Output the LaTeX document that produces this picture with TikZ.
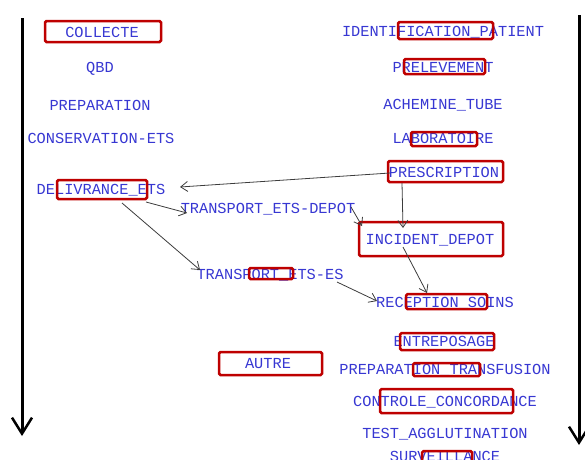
\documentclass[tikz,border=0pt]{standalone}
\usepackage{fontspec}
\setmonofont{Liberation Mono}
\usetikzlibrary{arrows.meta,calc}
\definecolor{lblblue}{RGB}{55,55,210}
\definecolor{boxred}{RGB}{190,0,0}
\definecolor{linkgray}{RGB}{60,60,60}
\begin{document}
\begin{tikzpicture}[x=1pt, y=-1pt,
    lbl/.style={inner sep=0pt, text height=10pt, text depth=0pt, text=lblblue,
        font=\ttfamily\fontsize{15.3}{18}\selectfont},
    redbox/.style={draw=boxred, line width=2.5pt, rounded corners=1.5pt},
    link/.style={draw=linkgray, line width=0.8pt, -{Straight Barb[length=7pt,width=10pt]}},
    axis/.style={draw=black, line width=3pt, -{Straight Barb[length=16pt,width=20pt,line width=2.5pt]}}]

        \useasboundingbox (0, 0) rectangle (585, 459);
        \clip (0, 0) rectangle (585, 459);

        % left column
        \node (collecte) at (102, 32) [lbl] {COLLECTE};
        \node (qbd) at (100, 67) [lbl] {QBD};
        \node (prep) at (100, 105) [lbl] {PREPARATION};
        \node (conserv) at (101, 138) [lbl] {CONSERVATION-ETS};
        \node (deliv) at (101, 189) [lbl] {DELIVRANCE\_ETS};

        % middle
        \node (tdepot) at (268, 208) [lbl] {TRANSPORT\_ETS-DEPOT};
        \node (tes) at (270, 274) [lbl] {TRANSPORT\_ETS-ES};
        \node (autre) at (268, 363) [lbl] {AUTRE};

        % right column
        \node (ident) at (443, 31) [lbl] {IDENTIFICATION\_PATIENT};
        \node (prelev) at (443, 67) [lbl] {PRELEVEMENT};
        \node (achem) at (443, 104) [lbl] {ACHEMINE\_TUBE};
        \node (labo) at (443, 138) [lbl] {LABORATOIRE};
        \node (presc) at (444, 172) [lbl] {PRESCRIPTION};
        \node (incid) at (430, 239) [lbl] {INCIDENT\_DEPOT};
        \node (recep) at (445, 302) [lbl] {RECEPTION\_SOINS};
        \node (entrep) at (444, 341) [lbl] {ENTREPOSAGE};
        \node (preptr) at (445, 369) [lbl] {PREPARATION\_TRANSFUSION};
        \node (controle) at (445, 401) [lbl] {CONTROLE\_CONCORDANCE};
        \node (test) at (445, 433) [lbl] {TEST\_AGGLUTINATION};
        \node (surv) at (445, 456) [lbl] {SURVEILLANCE};

        % red frames
        \draw[redbox] (45, 21) rectangle (161, 42);
        \draw[redbox] (57, 180) rectangle (147, 199);
        \draw[redbox] (249, 268) rectangle (293, 279);
        \draw[redbox] (219, 352) rectangle (322, 375);
        \draw[redbox] (398, 22) rectangle (493, 39);
        \draw[redbox] (404, 59) rectangle (485, 74);
        \draw[redbox] (411, 132) rectangle (477, 146);
        \draw[redbox] (388, 161) rectangle (503, 182);
        \draw[redbox] (359, 222) rectangle (503, 256);
        \draw[redbox] (406, 294) rectangle (487, 309);
        \draw[redbox] (400, 333) rectangle (494, 350);
        \draw[redbox] (413, 363) rectangle (480, 376);
        \draw[redbox] (380, 389) rectangle (513, 413);
        \draw[redbox] (422, 451) rectangle (472, 470);

        % time axes
        \coordinate (ltop) at (22, 18);
        \coordinate (lbot) at (22, 436);
        \coordinate (rtop) at (579, 15);
        \coordinate (rbot) at (579, 445);
        \draw[axis] (ltop) -- (lbot);
        \draw[axis] (rtop) -- (rbot);

        \draw[link] ($(presc)+(-54, 1)$) -- ($(deliv)+(79, -2)$);
        \draw[link] ($(deliv)+(45, 13)$) -- ($(tdepot)+(-81, 5)$);
        \draw[link] ($(deliv)+(21, 14)$) -- ($(tes)+(-70, -4)$);

        \draw[link] ($(tdepot)+(83, -1)$) -- ($(incid)+(-68, -13)$);
        \draw[link] ($(presc)+(-42, 11)$) -- ($(incid)+(-27, -11)$);

        \draw[link] ($(incid)+(-27, 8)$) -- ($(recep)+(-18, -9)$);
        \draw[link] ($(tes)+(67, 8)$) -- ($(recep)+(-68, -1)$);

    \end{tikzpicture}
\end{document}
